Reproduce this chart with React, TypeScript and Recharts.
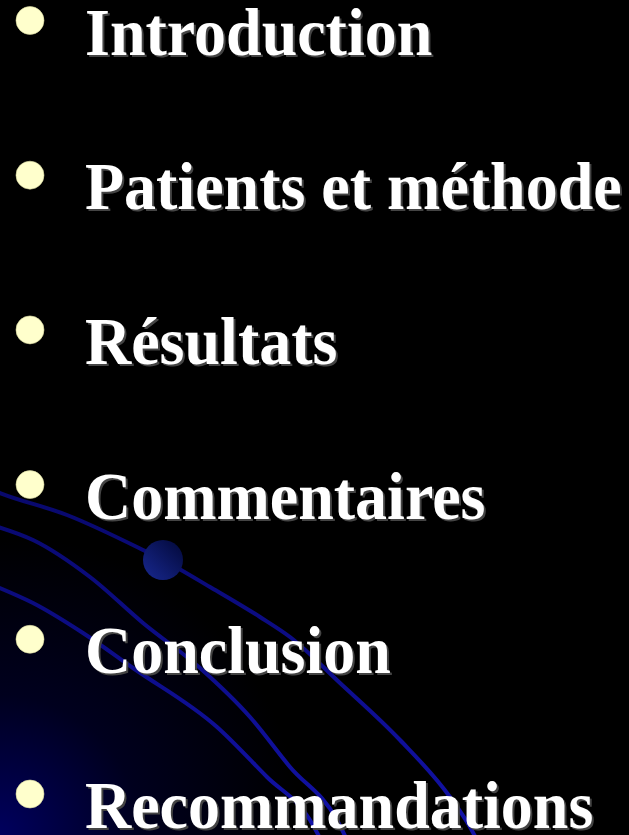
import { ScatterChart, Scatter, XAxis, YAxis, Curve } from "recharts";

// slide outline, top to bottom
const items = [
  "Introduction",
  "Patients et méthode",
  "Résultats",
  "Commentaires",
  "Conclusion",
  "Recommandations",
];

const data = items.map((label, i) => ({ x: 0, rank: i, label }));

// decorative swooshes of the slide template (pixel space)
const swooshA = [
  [-5, 491], [0, 493], [67, 515], [143, 550], [163, 560], [210, 587],
  [260, 617], [290, 637], [340, 683], [400, 740], [450, 797], [470, 827], [478, 842],
];
const swooshB = [
  [-5, 526], [33, 540], [90, 577], [143, 623], [200, 668], [250, 717],
  [290, 767], [337, 820], [348, 842],
];
const swooshC = [
  [-5, 586], [33, 603], [83, 633], [133, 668], [217, 727], [267, 777],
  [310, 820], [322, 842],
];

const W = 629;
const H = 835;
const FONT = "'Liberation Serif', 'Times New Roman', serif";

function toPoints(arr: number[][]) {
  return arr.map(([x, y]) => ({ x, y }));
}

function Background() {
  return (
    <svg width={W} height={H} style={{ position: "absolute", left: 0, top: 0 }}>
      <defs>
        <radialGradient id="corner" cx="0" cy={H} r="400" gradientUnits="userSpaceOnUse">
          <stop offset="0" stopColor="#00005e" />
          <stop offset="0.35" stopColor="#00001e" />
          <stop offset="0.75" stopColor="#000000" />
        </radialGradient>
        <linearGradient id="dot" x1="0" y1="1" x2="1" y2="0">
          <stop offset="0" stopColor="#182890" />
          <stop offset="1" stopColor="#020838" />
        </linearGradient>
        <linearGradient id="line" x1="0" y1="480" x2="0" y2="835" gradientUnits="userSpaceOnUse">
          <stop offset="0" stopColor="#08086a" />
          <stop offset="1" stopColor="#1212a8" />
        </linearGradient>
      </defs>
      <rect width={W} height={H} fill="url(#corner)" />
      {[swooshA, swooshB, swooshC].map((s, i) => (
        <Curve
          key={i}
          type="monotoneX"
          points={toPoints(s)}
          stroke="url(#line)"
          strokeWidth={4}
          fill="none"
        />
      ))}
      <circle cx={163} cy={560} r={20} fill="url(#dot)" />
    </svg>
  );
}

function BulletItem(props: any) {
  const { cx, cy, payload } = props;
  const tx = cx + 55;
  const ty = cy + 34;
  return (
    <g>
      <circle cx={cx} cy={cy} r={14} fill="#FFFFCC" stroke="#d8d8a0" strokeWidth={0.6} />
      <text
        transform={`translate(${tx + 2}, ${ty + 2}) scale(1,1.06)`}
        fontFamily={FONT}
        fontWeight="bold"
        fontSize={64}
        fill="#444444"
      >
        {payload.label}
      </text>
      <text
        transform={`translate(${tx}, ${ty}) scale(1,1.06)`}
        fontFamily={FONT}
        fontWeight="bold"
        fontSize={64}
        fill="#ffffff"
      >
        {payload.label}
      </text>
    </g>
  );
}

export default function App() {
  return (
    <div style={{ position: "relative", width: W, height: H, background: "#000", overflow: "hidden" }}>
      <style>{"body{margin:0}"}</style>
      <Background />
      <div style={{ position: "absolute", left: 0, top: 0 }}>
        <ScatterChart
          width={W}
          height={H}
          margin={{ top: 20.5, right: 0, bottom: 41, left: 30 }}
        >
          <XAxis type="number" dataKey="x" domain={[0, 1]} hide />
          <YAxis type="number" dataKey="rank" domain={[0, 5]} reversed hide />
          <Scatter data={data} shape={BulletItem} isAnimationActive={false} />
        </ScatterChart>
      </div>
    </div>
  );
}
